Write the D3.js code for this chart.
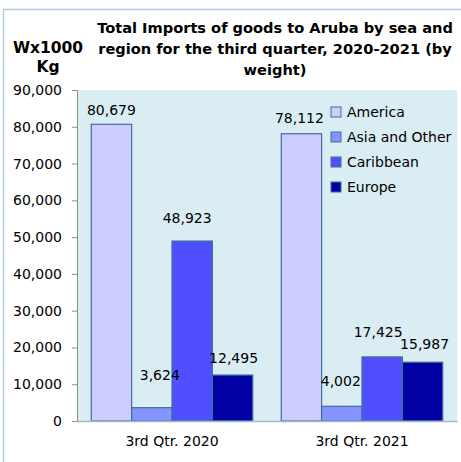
<!DOCTYPE html>
<html>
<head>
<meta charset="utf-8">
<script src="https://cdn.jsdelivr.net/npm/d3@7"></script>
<style>
  body { margin: 0; background: #fff; }
  text { font-family: "DejaVu Sans", sans-serif; fill: #000; }
</style>
</head>
<body>
<div class="canvas"></div>
<script>
// data
const quarters = ["3rd Qtr. 2020", "3rd Qtr. 2021"];
const regions = ["America", "Asia and Other", "Caribbean", "Europe"];
const america = [80679, 78112];
const asiaOther = [3624, 4002];
const caribbean = [48923, 17425];
const europe = [12495, 15987];
const yTicks = [0, 10000, 20000, 30000, 40000, 50000, 60000, 70000, 80000, 90000];

const series = [america, asiaOther, caribbean, europe];
const colors = ["#ccccff", "#8793ff", "#4f4fff", "#0000a3"];
// label nudges [dx, dy from bar top] per region, per quarter
const nudges = [
  [[0, -14], [-2, -16]],
  [[8, -33], [-1, -25]],
  [[-5, -23], [-4, -25]],
  [[1, -17], [2, -18]]
];

const w = 461;
const h = 462;
const margin = { top: 90, right: 4, bottom: 41, left: 77 };
const graphWidth = w - margin.left - margin.right;
const graphHeight = h - margin.top - margin.bottom;

const svg = d3.select(".canvas").append("svg").attr("width", w).attr("height", h);

// outer frame (right and bottom run off the picture)
svg.append("path")
  .attr("d", `M${w + 5},9.5 H3.5 V${h + 5}`)
  .attr("fill", "none")
  .attr("stroke", "#b4c9e2")
  .attr("stroke-width", 1.5);

const graph = svg.append("g").attr("transform", `translate(${margin.left}, ${margin.top})`);

// scales
const x0 = d3.scaleBand().domain(quarters).range([0, graphWidth]).paddingInner(0.15).paddingOuter(0.075);
const x1 = d3.scaleBand().domain(regions).range([0, x0.bandwidth()]);
const y = d3.scaleLinear().domain([0, 90000]).range([graphHeight, 0]);

// plot background
graph.append("rect")
  .attr("width", graphWidth)
  .attr("height", graphHeight)
  .attr("fill", "#daedf3");

// bars
const groups = graph.selectAll(".grp")
  .data(quarters)
  .enter()
  .append("g")
  .attr("transform", (d) => `translate(${x0(d)},0)`);

groups.each(function (q, qi) {
  const g = d3.select(this);
  regions.forEach((r, ri) => {
    const v = series[ri][qi];
    g.append("rect")
      .attr("x", x1(r))
      .attr("y", y(v))
      .attr("width", x1.bandwidth())
      .attr("height", y(0) - y(v))
      .attr("fill", colors[ri])
      .attr("stroke", "#3f6f9c")
      .attr("stroke-width", 1.2);
  });
});

// value labels
groups.each(function (q, qi) {
  const g = d3.select(this);
  regions.forEach((r, ri) => {
    const v = series[ri][qi];
    const [dx, dy] = nudges[ri][qi];
    g.append("text")
      .attr("x", x1(r) + x1.bandwidth() / 2 + dx)
      .attr("y", y(v) + dy)
      .attr("text-anchor", "middle")
      .attr("dominant-baseline", "central")
      .attr("font-size", 14)
      .text(d3.format(",")(v));
  });
});

// y axis
const yAxis = d3.axisLeft(y).tickValues(yTicks).tickFormat(d3.format(",")).tickSize(5).tickPadding(10);
const ya = graph.append("g").call(yAxis);
ya.select(".domain").attr("stroke", "#8c8c8c");
ya.selectAll(".tick line").attr("stroke", "#8c8c8c");
ya.selectAll(".tick text").attr("font-size", 14).attr("font-family", "DejaVu Sans").attr("fill", "#000");

// x axis
const xa = graph.append("g").attr("transform", `translate(0, ${graphHeight})`)
  .call(d3.axisBottom(x0).tickSize(0).tickPadding(15));
xa.select(".domain").attr("stroke", "#9fb9cf").attr("stroke-width", 1.5);
xa.selectAll(".tick text").attr("font-size", 14).attr("font-family", "DejaVu Sans").attr("fill", "#000");

// legend
const legend = graph.append("g").attr("transform", "translate(254, 22)");
regions.forEach((r, i) => {
  legend.append("rect")
    .attr("x", 0)
    .attr("y", i * 25 - 5)
    .attr("width", 10)
    .attr("height", 10)
    .attr("fill", colors[i])
    .attr("stroke", "#3f6f9c");
  legend.append("text")
    .attr("x", 16)
    .attr("y", i * 25)
    .attr("dominant-baseline", "central")
    .attr("font-size", 14)
    .text(r);
});

// title
const titleLines = [
  "Total Imports of goods to Aruba by sea and",
  "region for the third quarter, 2020-2021 (by",
  "weight)"
];
svg.append("text")
  .attr("x", 275)
  .attr("y", 28)
  .attr("text-anchor", "middle")
  .attr("font-weight", "bold")
  .attr("font-size", 14.6)
  .attr("font-family", "Open Sans")
  .selectAll("tspan")
  .data(titleLines)
  .enter()
  .append("tspan")
  .attr("x", 275)
  .attr("dy", (d, i) => (i === 0 ? 5 : 21))
  .text((d) => d);

// y axis title
svg.append("text")
  .attr("x", 48)
  .attr("y", 53)
  .attr("text-anchor", "middle")
  .attr("font-weight", "bold")
  .attr("font-size", 15.5)
  .attr("font-family", "Open Sans")
  .selectAll("tspan")
  .data(["Wx1000", "Kg"])
  .enter()
  .append("tspan")
  .attr("x", 48)
  .attr("dy", (d, i) => (i === 0 ? 0 : 19))
  .text((d) => d);
</script>
</body>
</html>
